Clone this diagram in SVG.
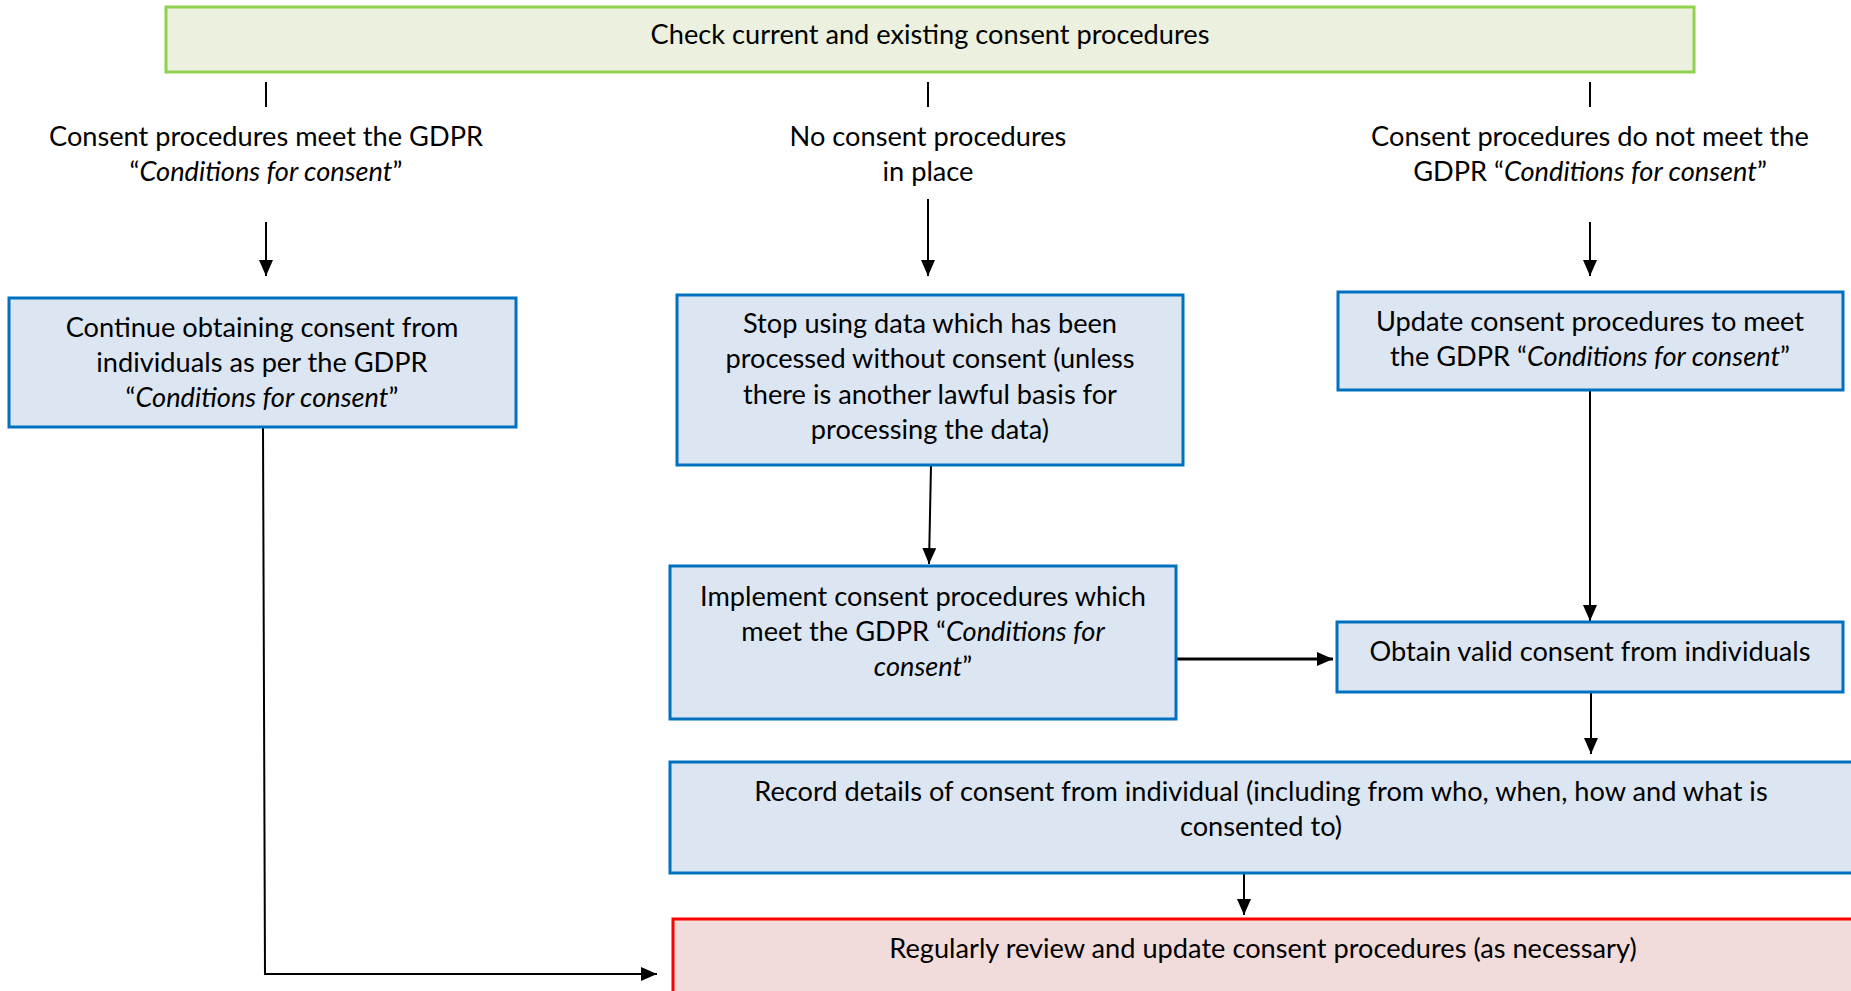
<svg xmlns="http://www.w3.org/2000/svg" width="1851" height="991" viewBox="0 0 1851 991">
<style>
text{font-family:Lato,"Liberation Sans",sans-serif;font-size:27.2px;fill:#000;text-anchor:middle}
.i{font-style:italic}
.box{fill:#DCE6F2;stroke:#0070C0;stroke-width:3}
.green{fill:#EBF1DE;stroke:#92D050;stroke-width:3}
.red{fill:#F2DCDB;stroke:#FF0000;stroke-width:3}
.c{stroke:#000;stroke-width:2;fill:none}
.t{stroke:#000;stroke-width:3;fill:none}
</style>
<defs>
<marker id="ah" viewBox="0 0 16 14" refX="16" refY="7" markerWidth="16" markerHeight="14" markerUnits="userSpaceOnUse" orient="auto">
<path d="M0,0 L16,7 L0,14 Z" fill="#000"/>
</marker>
</defs>
<rect width="1851" height="991" fill="#fff"/>
<g id="connectors">
<line class="c" x1="266" y1="82" x2="266" y2="107"/>
<line class="c" x1="928" y1="82" x2="928" y2="107"/>
<line class="c" x1="1590" y1="82" x2="1590" y2="107"/>
<line class="c" x1="266" y1="222" x2="266" y2="276" marker-end="url(#ah)"/>
<line class="c" x1="928" y1="199" x2="928" y2="276" marker-end="url(#ah)"/>
<line class="c" x1="1590" y1="222" x2="1590" y2="276" marker-end="url(#ah)"/>
<polyline class="c" points="263,427 265,974 657,974" marker-end="url(#ah)"/>
<line class="c" x1="931" y1="465" x2="929" y2="564" marker-end="url(#ah)"/>
<line class="c" x1="1590" y1="390" x2="1590" y2="621" marker-end="url(#ah)"/>
<line class="t" x1="1176" y1="659" x2="1333" y2="659" marker-end="url(#ah)"/>
<line class="c" x1="1591" y1="692" x2="1591" y2="754" marker-end="url(#ah)"/>
<line class="c" x1="1244" y1="873" x2="1244" y2="915" marker-end="url(#ah)"/>
</g>
<g id="check">
<rect class="green" x="166" y="7" width="1528" height="65"/>
<text x="930" y="44">Check current and existing consent procedures</text>
</g>
<g id="label-meet">
<text x="266" y="146">Consent procedures meet the GDPR</text>
<text x="266" y="181">“<tspan class="i">Conditions for consent</tspan>”</text>
</g>
<g id="label-none">
<text x="928" y="146">No consent procedures</text>
<text x="928" y="181">in place</text>
</g>
<g id="label-notmeet">
<text x="1590" y="146">Consent procedures do not meet the</text>
<text x="1590" y="181">GDPR “<tspan class="i">Conditions for consent</tspan>”</text>
</g>
<g id="continue">
<rect class="box" x="9" y="298" width="507" height="129"/>
<text x="262" y="337">Continue obtaining consent from</text>
<text x="262" y="372">individuals as per the GDPR</text>
<text x="262" y="407">“<tspan class="i">Conditions for consent</tspan>”</text>
</g>
<g id="stop">
<rect class="box" x="677" y="295" width="506" height="170"/>
<text x="930" y="333">Stop using data which has been</text>
<text x="930" y="368">processed without consent (unless</text>
<text x="930" y="404">there is another lawful basis for</text>
<text x="930" y="439">processing the data)</text>
</g>
<g id="update">
<rect class="box" x="1338" y="292" width="505" height="98"/>
<text x="1590" y="331">Update consent procedures to meet</text>
<text x="1590" y="366">the GDPR “<tspan class="i">Conditions for consent</tspan>”</text>
</g>
<g id="implement">
<rect class="box" x="670" y="566" width="506" height="153"/>
<text x="923" y="606">Implement consent procedures which</text>
<text x="923" y="641">meet the GDPR “<tspan class="i">Conditions for</tspan></text>
<text x="923" y="676"><tspan class="i">consent</tspan>”</text>
</g>
<g id="obtain">
<rect class="box" x="1337" y="622" width="506" height="70"/>
<text x="1590" y="661">Obtain valid consent from individuals</text>
</g>
<g id="record">
<rect class="box" x="670" y="762" width="1184" height="111"/>
<text x="1261" y="801">Record details of consent from individual (including from who, when, how and what is</text>
<text x="1261" y="836">consented to)</text>
</g>
<g id="review">
<rect class="red" x="673" y="919" width="1184" height="100"/>
<text x="1263" y="958">Regularly review and update consent procedures (as necessary)</text>
</g>
</svg>
